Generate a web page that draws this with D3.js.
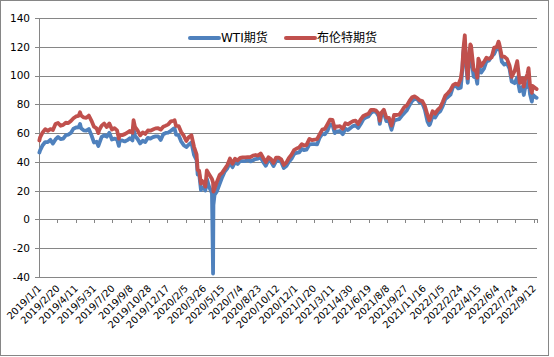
<!DOCTYPE html>
<html><head><meta charset="utf-8">
<script src="https://cdn.jsdelivr.net/npm/d3@7"></script>
<style>html,body{margin:0;padding:0;background:#fff;}svg{display:block;}</style>
</head><body>
<svg id="chart" width="554" height="357"></svg>
<script>
const seriesNames = ["WTI期货", "布伦特期货"];
const dates = [
"2019-01-02","2019-01-04","2019-01-11","2019-01-18","2019-01-25","2019-02-01","2019-02-08","2019-02-15","2019-02-22","2019-03-01",
"2019-03-08","2019-03-15","2019-03-22","2019-03-29","2019-04-05","2019-04-12","2019-04-19","2019-04-23","2019-04-26","2019-05-03",
"2019-05-10","2019-05-17","2019-05-24","2019-05-31","2019-06-07","2019-06-12","2019-06-14","2019-06-21","2019-06-28","2019-07-05",
"2019-07-12","2019-07-19","2019-07-26","2019-08-02","2019-08-07","2019-08-09","2019-08-16","2019-08-23","2019-08-30","2019-09-06",
"2019-09-13","2019-09-16","2019-09-20","2019-09-27","2019-10-04","2019-10-11","2019-10-18","2019-10-25","2019-11-01","2019-11-08",
"2019-11-15","2019-11-22","2019-11-29","2019-12-06","2019-12-13","2019-12-20","2019-12-27",
"2020-01-03","2020-01-06","2020-01-10","2020-01-17","2020-01-24","2020-01-31","2020-02-07","2020-02-14","2020-02-21","2020-02-28",
"2020-03-06","2020-03-09","2020-03-13","2020-03-18","2020-03-20","2020-03-27","2020-03-30","2020-04-03","2020-04-09","2020-04-17",
"2020-04-20","2020-04-21","2020-04-24","2020-05-01","2020-05-08","2020-05-15","2020-05-22","2020-05-29","2020-06-05","2020-06-12",
"2020-06-19","2020-06-26","2020-07-03","2020-07-10","2020-07-17","2020-07-24","2020-07-31","2020-08-07","2020-08-14","2020-08-21",
"2020-08-28","2020-09-04","2020-09-11","2020-09-18","2020-09-25","2020-10-02","2020-10-09","2020-10-16","2020-10-23","2020-10-30",
"2020-11-06","2020-11-13","2020-11-20","2020-11-27","2020-12-04","2020-12-11","2020-12-18","2020-12-24","2020-12-31",
"2021-01-08","2021-01-15","2021-01-22","2021-01-29","2021-02-05","2021-02-12","2021-02-19","2021-02-26","2021-03-05","2021-03-12",
"2021-03-18","2021-03-19","2021-03-26","2021-04-01","2021-04-09","2021-04-16","2021-04-23","2021-04-30","2021-05-07","2021-05-14",
"2021-05-21","2021-05-28","2021-06-04","2021-06-11","2021-06-18","2021-06-25","2021-07-02","2021-07-09","2021-07-16","2021-07-19",
"2021-07-23","2021-07-30","2021-08-06","2021-08-13","2021-08-20","2021-08-27","2021-09-03","2021-09-10","2021-09-17","2021-09-24",
"2021-10-01","2021-10-08","2021-10-15","2021-10-22","2021-10-29","2021-11-05","2021-11-12","2021-11-19","2021-11-26","2021-12-01",
"2021-12-03","2021-12-10","2021-12-17","2021-12-24","2021-12-31",
"2022-01-07","2022-01-14","2022-01-21","2022-01-28","2022-02-04","2022-02-11","2022-02-18","2022-02-25","2022-03-01","2022-03-04",
"2022-03-08","2022-03-11","2022-03-16","2022-03-18","2022-03-23","2022-03-25","2022-04-01","2022-04-08","2022-04-11","2022-04-14",
"2022-04-22","2022-04-29","2022-05-06","2022-05-13","2022-05-20","2022-05-27","2022-06-03","2022-06-08","2022-06-10","2022-06-17",
"2022-06-24","2022-07-01","2022-07-08","2022-07-14","2022-07-22","2022-07-29","2022-08-05","2022-08-12","2022-08-16","2022-08-19",
"2022-08-26","2022-08-29","2022-09-02","2022-09-07","2022-09-09","2022-09-16","2022-09-20"
];
const wti = [
46.5,48.0,51.6,53.8,53.7,55.3,52.7,55.6,57.3,55.8,
56.1,58.5,59.0,60.1,63.1,63.9,64.0,66.3,63.3,61.9,
61.7,62.8,58.6,53.5,54.0,51.1,52.5,57.4,58.5,57.5,
60.2,55.6,56.2,55.7,51.1,54.5,54.9,54.2,55.1,56.5,
54.9,62.9,58.1,55.9,52.8,54.7,53.8,56.7,56.2,57.2,
57.7,57.8,55.2,59.2,60.1,60.4,61.7,
63.1,63.3,59.0,58.5,54.2,51.6,50.3,52.1,53.4,44.8,
41.3,31.1,31.7,20.4,22.4,21.5,20.1,28.3,22.8,18.3,
-37.6,10.0,16.9,19.8,24.7,29.4,33.3,35.5,39.6,36.3,
39.8,38.5,40.7,40.6,40.6,41.3,40.3,41.2,42.0,42.3,
43.0,39.8,37.3,41.1,40.3,37.1,40.6,40.9,39.9,35.8,
37.1,40.1,42.2,45.5,46.3,46.6,49.1,48.2,48.5,
52.2,52.4,52.3,52.2,56.9,59.5,59.2,61.5,66.1,65.6,
60.0,61.4,61.0,61.5,59.3,63.1,62.1,63.6,64.9,65.4,
63.6,66.3,69.6,70.9,71.6,74.1,75.2,74.6,71.8,66.4,
72.1,74.0,68.3,68.4,62.3,68.7,69.3,69.7,72.0,74.0,
75.9,79.4,82.3,83.8,83.6,81.3,80.8,76.1,68.2,65.6,
66.3,71.7,70.9,73.8,75.2,
78.9,83.8,85.1,86.8,92.3,93.1,91.1,91.6,103.4,115.7,
123.7,109.3,95.0,104.7,114.9,113.9,99.3,98.3,94.3,107.0,
102.1,104.7,109.8,110.5,113.2,115.1,118.9,122.1,120.7,109.6,
107.6,108.4,104.8,95.8,94.7,98.6,89.0,92.1,86.5,90.8,
93.1,97.0,86.9,81.9,86.8,85.1,84.5
];
const brent = [
54.9,57.1,60.5,62.7,61.6,62.8,62.1,66.3,67.1,65.1,
65.7,67.2,67.0,68.4,70.3,71.6,72.0,74.5,72.2,70.9,
70.6,72.2,68.7,64.5,63.3,60.0,62.0,65.2,66.6,64.2,
66.7,62.5,63.5,61.9,56.2,58.5,58.6,59.3,60.4,61.5,
60.2,69.0,64.3,61.9,58.4,60.5,59.4,61.8,61.7,62.5,
63.3,63.4,62.4,64.4,65.2,66.1,68.2,
68.6,68.9,65.0,64.9,60.7,58.2,54.5,57.3,58.5,50.5,
45.3,34.4,33.9,24.9,27.0,24.9,22.8,34.1,31.5,28.1,
25.6,19.3,21.4,26.4,31.0,32.5,35.1,37.8,42.3,38.7,
42.2,41.0,42.8,43.2,43.1,43.3,43.3,44.4,44.8,44.4,
45.8,42.7,39.8,43.2,41.9,39.3,42.9,42.9,41.8,37.9,
39.5,42.8,45.0,48.2,49.3,50.0,52.3,51.3,51.8,
56.0,55.1,55.4,55.9,59.3,62.4,62.9,66.1,69.4,69.2,
63.3,64.5,64.6,64.9,63.0,66.8,66.1,67.3,68.3,68.7,
66.4,69.6,71.9,72.7,73.5,76.2,76.2,75.6,73.6,68.6,
74.1,76.3,70.7,70.6,65.2,72.7,72.6,72.9,75.3,78.1,
79.3,82.4,84.9,85.5,84.4,82.7,82.2,78.9,72.7,68.9,
69.9,75.2,73.5,76.1,77.8,
81.8,86.1,87.9,90.0,93.3,94.4,93.5,97.9,105.0,118.1,
128.0,112.7,98.0,107.9,121.6,120.7,104.4,102.8,98.5,111.7,
106.7,109.3,112.4,111.6,112.6,119.4,119.7,123.6,122.0,113.1,
113.1,111.6,107.0,99.1,103.2,110.0,94.9,98.2,92.3,96.7,
101.0,105.1,93.0,88.0,92.8,91.4,90.6
];
const yTicks = [-40,-20,0,20,40,60,80,100,120,140];
const xTickLabels = ["2019/1/1","2019/2/20","2019/4/11","2019/5/31","2019/7/20","2019/9/8","2019/10/28","2019/12/17",
"2020/2/5","2020/3/26","2020/5/15","2020/7/4","2020/8/23","2020/10/12","2020/12/1","2021/1/20","2021/3/11","2021/4/30",
"2021/6/19","2021/8/8","2021/9/27","2021/11/16","2022/1/5","2022/2/24","2022/4/15","2022/6/4","2022/7/24","2022/9/12"];
const axisStart = "2019-01-01", axisEnd = "2022-09-21";

const svg = d3.select("#chart");
const L = 39, R = 537, T = 18, B = 277;
const parse = d3.timeParse("%Y-%m-%d");
const parseLbl = d3.timeParse("%Y/%-m/%-d");
const x = d3.scaleTime().domain([parse(axisStart), parse(axisEnd)]).range([L, R]);
const y = d3.scaleLinear().domain([-40, 140]).range([B, T]);
const gridC = "#868686";
const font = "'DejaVu Sans','Noto Sans CJK SC',sans-serif";

svg.append("rect").attr("x",0.5).attr("y",0.5).attr("width",548).attr("height",355)
  .attr("fill","#fff").attr("stroke",gridC).attr("stroke-width",1);

// y gridlines + axis
const yAxis = d3.axisLeft(y).tickValues(yTicks).tickSize(-(R-L)).tickPadding(9).tickFormat(d => String(d));
const gy = svg.append("g").attr("transform",`translate(${L},0)`).call(yAxis);
gy.select(".domain").remove();
gy.selectAll(".tick line").attr("stroke",gridC).attr("x1",-4).attr("shape-rendering","crispEdges");
gy.selectAll(".tick text").attr("font-family",font).attr("font-size","10.5px").attr("fill","#000");
svg.append("line").attr("x1",L).attr("x2",L).attr("y1",T).attr("y2",B).attr("stroke",gridC).attr("shape-rendering","crispEdges");

// x axis at y=0
const tickDates = xTickLabels.map(parseLbl);
const xAxis = d3.axisBottom(x).tickValues(tickDates).tickSize(4).tickFormat("");
const gx = svg.append("g").attr("transform",`translate(0,${y(0)})`).call(xAxis);
gx.select(".domain").attr("stroke",gridC).attr("shape-rendering","crispEdges");
gx.selectAll(".tick line").attr("stroke",gridC).attr("shape-rendering","crispEdges");
svg.append("g").selectAll("text").data(tickDates).join("text")
  .attr("transform",(d)=>`translate(${x(d)+3},${B+12}) rotate(-45)`)
  .attr("text-anchor","end")
  .attr("font-family",font).attr("font-size","9.8px").attr("fill","#000")
  .text((d,i)=>xTickLabels[i]);

// lines
const pts = (vals)=>dates.map((d,i)=>({date:parse(d), v:vals[i]}));
const line = d3.line().x(d=>x(d.date)).y(d=>y(d.v));
const colors = ["#4F81BD","#C0504D"];
[wti, brent].forEach((vals,k)=>{
  svg.append("path").datum(pts(vals)).attr("d",line).attr("fill","none")
    .attr("stroke",colors[k]).attr("stroke-width",3.8).attr("stroke-linejoin","round").attr("stroke-linecap","round");
});

// legend
const leg = [{x0:190, tx:221},{x0:286, tx:317}];
leg.forEach((p,k)=>{
  svg.append("line").attr("x1",p.x0).attr("x2",p.x0+29).attr("y1",38).attr("y2",38)
    .attr("stroke",colors[k]).attr("stroke-width",4).attr("stroke-linecap","round");
  svg.append("text").attr("x",p.tx).attr("y",42).attr("font-family",font).attr("font-size","12px")
    .attr("fill","#000").text(seriesNames[k]);
});
</script>
</body></html>
